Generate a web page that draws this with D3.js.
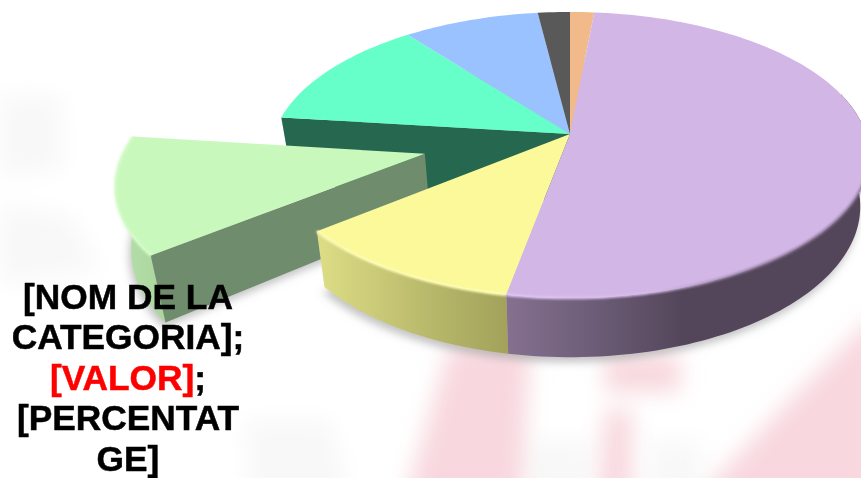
<!DOCTYPE html>
<html lang="en">
  <head>
    <meta charset="UTF-8" />
    <title>pie-3d</title>
    <style>
      html, body { margin: 0; padding: 0; background: #fff; overflow: hidden; }
      svg { display: block; }
      text { font-family: "Liberation Sans", Arial, sans-serif; font-weight: bold; font-size: 35.3px; text-anchor: middle; }
    </style>
  </head>
  <body>
    <svg width="861" height="478" id="svg"></svg>
    <script src="https://d3js.org/d3.v7.min.js"></script>
    <script>
      // values (share of the pie, in %)
      const categories = ["a", "b", "c", "d", "e", "f", "g"];
      const values = [1.5, 51.5, 11.2, 12.8, 12.6, 8.5, 2.0];
      const explode = [0, 0, 0, 0.5, 0, 0, 0];
      const topColors = ["#f2b98a", "#d2b6e6", "#fbf99a", "#c9f8bc", "#66ffca", "#99c2ff", "#595959"];
      const labelLines = [
        [["[NOM DE LA", "#000"]],
        [["CATEGORIA];", "#000"]],
        [["[VALOR]", "#f00"], [";", "#000"]],
        [["[PERCENTAT", "#000"]],
        [["GE]", "#000"]],
      ];

      const svg = d3.select("#svg");
      const defs = svg.append("defs");

      const cx = 570, cy = 134, rx = 296, ry = 140;
      const persp = 0.147; // how much the near side grows
      const depth = 0.36;  // wall height, in ry units

      const xScale = d3.scaleLinear().domain([-1, 1]).range([cx - rx, cx + rx]);
      const yScale = d3.scaleLinear().domain([-1, 1]).range([cy - ry, cy + ry]);
      const line = d3.line();

      const pie = d3.pie().sort(null)(values);

      // angle on the disc -> screen point, z = 0 top face, z = 1 floor
      function project(d, angle, r, z) {
        const mid = (d.startAngle + d.endAngle) / 2;
        const ex = explode[d.index];
        const u = r * Math.sin(angle) + ex * Math.sin(mid);
        const v = -r * Math.cos(angle) - ex * Math.cos(mid);
        const s = 1 / (1 - persp * v);
        // the pulled out slice sits closer to the camera, so its wall looks taller
        const zz = ex ? z * 1.18 : z;
        return [xScale(u * s * (1 - 0.03 * zz)), yScale(v * s + depth * zz * s)];
      }
      function rim(d, a0, a1, z) {
        const n = Math.max(2, Math.ceil(Math.abs(a1 - a0) * 40));
        return d3.range(n + 1).map((i) => project(d, a0 + ((a1 - a0) * i) / n, 1, z));
      }
      const topPath = (d) =>
        line([project(d, d.startAngle, 0, 0), ...rim(d, d.startAngle, d.endAngle, 0)]) + "Z";
      function wallPath(d, a0, a1) {
        return line([...rim(d, a0, a1, 0), ...rim(d, a1, a0, 1)]) + "Z";
      }
      function cutPath(d, a, z = 1) {
        return line([
          project(d, a, 0, 0), project(d, a, 1, 0),
          project(d, a, 1, z), project(d, a, 0, z),
        ]) + "Z";
      }
      const floorPath = (d) =>
        line([project(d, d.startAngle, 0, 1), ...rim(d, d.startAngle, d.endAngle, 1)]) + "Z";

      function gradient(id, stops, x1, x2) {
        const g = defs.append("linearGradient").attr("id", id)
          .attr("gradientUnits", "userSpaceOnUse")
          .attr("x1", x1).attr("x2", x2).attr("y1", 0).attr("y2", 0);
        stops.forEach(([o, c]) => g.append("stop").attr("offset", o).attr("stop-color", c));
      }
      gradient("wallPurple", [[0, "#85708f"], [0.25, "#70607c"], [0.6, "#54465a"], [1, "#54465a"]], 507, 800);
      gradient("wallYellow", [[0, "#dcdc85"], [0.5, "#bdbd6e"], [1, "#a2a25b"]], 322, 507);
      gradient("wallGreen", [[0, "#b6e0a9"], [1, "#a9d49c"]], 118, 170);
      gradient("edgePurple", [[0, "#e4c9f7"], [0.4, "#d8bdea"], [0.7, "#8f7a9c"], [1, "#8f7a9c"]], 507, 861);

      [["blurBg", 11], ["blurShadow", 4], ["blurEdge", 1.2]].forEach(([id, sd]) => {
        defs.append("filter").attr("id", id)
          .attr("x", "-30%").attr("y", "-30%").attr("width", "160%").attr("height", "160%")
          .append("feGaussianBlur").attr("stdDeviation", sd);
      });

      // washed out picture behind the chart
      const bg = svg.append("g").attr("filter", "url(#blurBg)");
      const bgPink = ["M450,345L530,345L522,500L405,500Z", "M605,355L680,355L680,392L605,392Z",
        "M605,410L632,410L632,500L598,500Z", "M880,310L880,500L695,500L790,400Z"];
      bgPink.forEach((p) => bg.append("path").attr("d", p).attr("fill", "#f8d8de"));
      const bgGrey = ["M0,95L60,95L62,170L0,175Z", "M0,205L70,215L100,270L0,285Z",
        "M245,420L330,420L350,500L250,500Z", "M530,440L590,440L590,500L530,500Z", "M650,440L700,440L700,500L650,500Z"];
      bgGrey.forEach((p) => bg.append("path").attr("d", p).attr("fill", "#f8f8f8"));

      // shadow on the floor
      svg.append("g").attr("filter", "url(#blurShadow)").attr("transform", "translate(-2,5)")
        .selectAll("path").data(pie).join("path")
        .attr("d", floorPath).attr("fill", "#9a9a9a").attr("opacity", 0.6);

      const [peach, purple, yellow, green, teal, blue, grey] = pie;
      const chart = svg.append("g");
      const add = (d, fill) => chart.append("path").attr("d", d).attr("fill", fill);

      // far slices first, near slices over them
      add(cutPath(teal, teal.startAngle, 1.35), "#26684f");
      [teal, blue, grey, peach].forEach((d) => add(topPath(d), topColors[d.index]));

      add(wallPath(green, green.startAngle, green.endAngle), "url(#wallGreen)");
      add(cutPath(green, green.startAngle), "#6f8c6d");
      add(topPath(green), topColors[green.index]);

      add(wallPath(yellow, yellow.startAngle, yellow.endAngle), "url(#wallYellow)");
      add(topPath(yellow), topColors[yellow.index]);

      add(wallPath(purple, Math.PI / 2 - 0.3, purple.endAngle), "url(#wallPurple)");
      add(topPath(purple), topColors[purple.index]);

      // soft light along the front edge
      [[yellow, "#fffdb8"], [purple, "url(#edgePurple)"], [green, "#d9fccf"]].forEach(([d, c]) => {
        const a0 = d === purple ? Math.PI / 2 : d.startAngle;
        chart.append("path")
          .attr("d", line(rim(d, a0, d.endAngle, 0)))
          .attr("fill", "none").attr("stroke", c).attr("stroke-width", 2.5)
          .attr("filter", "url(#blurEdge)");
      });

      const label = svg.append("g");
      labelLines.forEach((parts, i) => {
        const t = label.append("text").attr("x", 128).attr("y", 308.5 + i * 40.5);
        parts.forEach(([s, c]) => t.append("tspan").attr("fill", c)
          .attr("stroke", c).attr("stroke-width", 0.5).text(s));
      });
    </script>
  </body>
</html>
